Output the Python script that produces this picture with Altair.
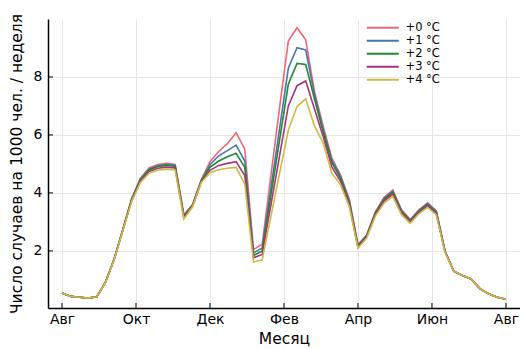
import altair as alt
import pandas as pd

# Weekly incidence per 1000 people over one season (Aug -> Aug), 52 weeks,
# for five warming scenarios.
weeks = list(range(52))
series_names = ["+0 °C", "+1 °C", "+2 °C", "+3 °C", "+4 °C"]
series_colors = ["#EE6677", "#4477AA", "#228833", "#AA3377", "#CCBB44"]

month_ticks = [0, 2, 4, 6, 8, 10, 12]
month_labels = ["Авг", "Окт", "Дек", "Фев", "Апр", "Июн", "Авг"]
y_ticks = [2, 4, 6, 8]

plus0 = [0.55, 0.43, 0.40, 0.37, 0.42, 0.92, 1.72, 2.75, 3.80, 4.50,
         4.86, 4.98, 5.02, 4.98, 3.25, 3.60, 4.45, 5.08, 5.43, 5.70,
         6.08, 5.51, 2.05, 2.23, 4.60, 6.95, 9.24, 9.70, 9.28, 7.50,
         6.30, 5.20, 4.62, 3.78, 2.22, 2.55, 3.35, 3.85, 4.10, 3.42,
         3.08, 3.42, 3.66, 3.38, 2.00, 1.30, 1.15, 1.03, 0.70, 0.52,
         0.40, 0.33]
plus1 = [0.55, 0.43, 0.40, 0.37, 0.42, 0.92, 1.72, 2.75, 3.78, 4.47,
         4.82, 4.94, 4.98, 4.95, 3.22, 3.58, 4.43, 4.97, 5.28, 5.46,
         5.65, 5.10, 1.93, 2.10, 4.17, 6.23, 8.30, 9.01, 8.93, 7.40,
         6.20, 5.12, 4.56, 3.73, 2.19, 2.53, 3.32, 3.81, 4.06, 3.39,
         3.06, 3.39, 3.63, 3.36, 1.99, 1.30, 1.15, 1.03, 0.70, 0.52,
         0.40, 0.33]
plus2 = [0.55, 0.43, 0.40, 0.37, 0.42, 0.92, 1.72, 2.74, 3.76, 4.44,
         4.79, 4.91, 4.95, 4.92, 3.19, 3.56, 4.41, 4.88, 5.10, 5.25,
         5.37, 4.88, 1.84, 2.00, 3.92, 5.83, 7.75, 8.47, 8.43, 7.25,
         6.10, 5.05, 4.50, 3.68, 2.16, 2.51, 3.29, 3.77, 4.03, 3.36,
         3.04, 3.37, 3.60, 3.33, 1.98, 1.30, 1.15, 1.03, 0.70, 0.52,
         0.40, 0.33]
plus3 = [0.55, 0.43, 0.40, 0.37, 0.42, 0.92, 1.71, 2.73, 3.74, 4.40,
         4.74, 4.85, 4.89, 4.86, 3.15, 3.54, 4.38, 4.78, 4.95, 5.02,
         5.08, 4.60, 1.76, 1.88, 3.59, 5.29, 7.00, 7.70, 7.86, 6.90,
         5.95, 4.90, 4.40, 3.62, 2.13, 2.48, 3.25, 3.72, 3.96, 3.31,
         3.00, 3.33, 3.56, 3.29, 1.97, 1.30, 1.15, 1.03, 0.70, 0.52,
         0.40, 0.33]
plus4 = [0.55, 0.43, 0.40, 0.37, 0.42, 0.91, 1.70, 2.71, 3.70, 4.35,
         4.68, 4.78, 4.82, 4.79, 3.10, 3.52, 4.35, 4.70, 4.80, 4.85,
         4.88, 4.30, 1.62, 1.69, 3.18, 4.68, 6.17, 6.98, 7.24, 6.32,
         5.72, 4.68, 4.28, 3.53, 2.09, 2.44, 3.20, 3.65, 3.88, 3.25,
         2.95, 3.28, 3.50, 3.24, 1.95, 1.30, 1.15, 1.03, 0.70, 0.52,
         0.40, 0.33]

rows = []
for name, vals in zip(series_names, [plus0, plus1, plus2, plus3, plus4]):
    for w, v in zip(weeks, vals):
        # 52 weekly points spread evenly across the 12-month season
        rows.append({"m": w * 12 / 51, "val": v, "scenario": name})
df = pd.DataFrame(rows)

FONT = "DejaVu Sans"

x_scale = alt.Scale(domain=[-0.378, 12.38], nice=False, zero=False)
y_scale = alt.Scale(domain=[0.03, 10.0], nice=False, zero=False)

label_js = "[" + ",".join(f"'{s}'" for s in month_labels) + "]"
x_axis = alt.Axis(
    values=month_ticks,
    labelExpr=f"{label_js}[round(datum.value / 2)]",
    title="Месяц",
    ticks=False,
    labelPadding=4,
    titlePadding=5,
    grid=True,
)
y_axis = alt.Axis(
    values=y_ticks,
    title="Число случаев на 1000 чел. / неделя",
    ticks=False,
    labelPadding=6,
    titlePadding=9,
    grid=True,
)

lines = alt.Chart(df).mark_line(strokeWidth=1.6).encode(
    x=alt.X("m:Q", scale=x_scale, axis=x_axis),
    y=alt.Y("val:Q", scale=y_scale, axis=y_axis),
    color=alt.Color(
        "scenario:N",
        scale=alt.Scale(domain=series_names, range=series_colors),
        legend=alt.Legend(
            title=None,
            orient="none",
            legendX=329,
            legendY=3,
            symbolType="M-4,0H4",
            symbolSize=64,
            symbolStrokeWidth=2,
            labelOffset=17,
            labelFontSize=11.5,
            labelFont=FONT,
            rowPadding=0,
        ),
    ),
)

# inward tick marks on both axes
xticks = alt.Chart(pd.DataFrame({"m": month_ticks})).mark_rule(
    color="black", strokeWidth=1
).encode(
    x=alt.X("m:Q", scale=x_scale, axis=x_axis),
    y=alt.value(289),
    y2=alt.value(284),
)
yticks = alt.Chart(pd.DataFrame({"val": y_ticks})).mark_rule(
    color="black", strokeWidth=1
).encode(
    y=alt.Y("val:Q", scale=y_scale, axis=y_axis),
    x=alt.value(0),
    x2=alt.value(5),
)

chart = alt.layer(lines, xticks, yticks).properties(
    width=472,
    height=289,
    autosize=alt.AutoSizeParams(type="none"),
    padding={"left": 48, "top": 19, "right": 0, "bottom": 41},
).configure_view(stroke=None).configure_axis(
    domainColor="black",
    domainWidth=1.5,
    gridColor="#e6e6e6",
    gridWidth=1,
    labelFont=FONT,
    labelFontSize=14,
    labelColor="black",
    titleFont=FONT,
    titleFontSize=15.5,
    titleFontWeight="normal",
    titleColor="black",
)

chart.save("out.html", embed_options={"renderer": "svg", "actions": False})
